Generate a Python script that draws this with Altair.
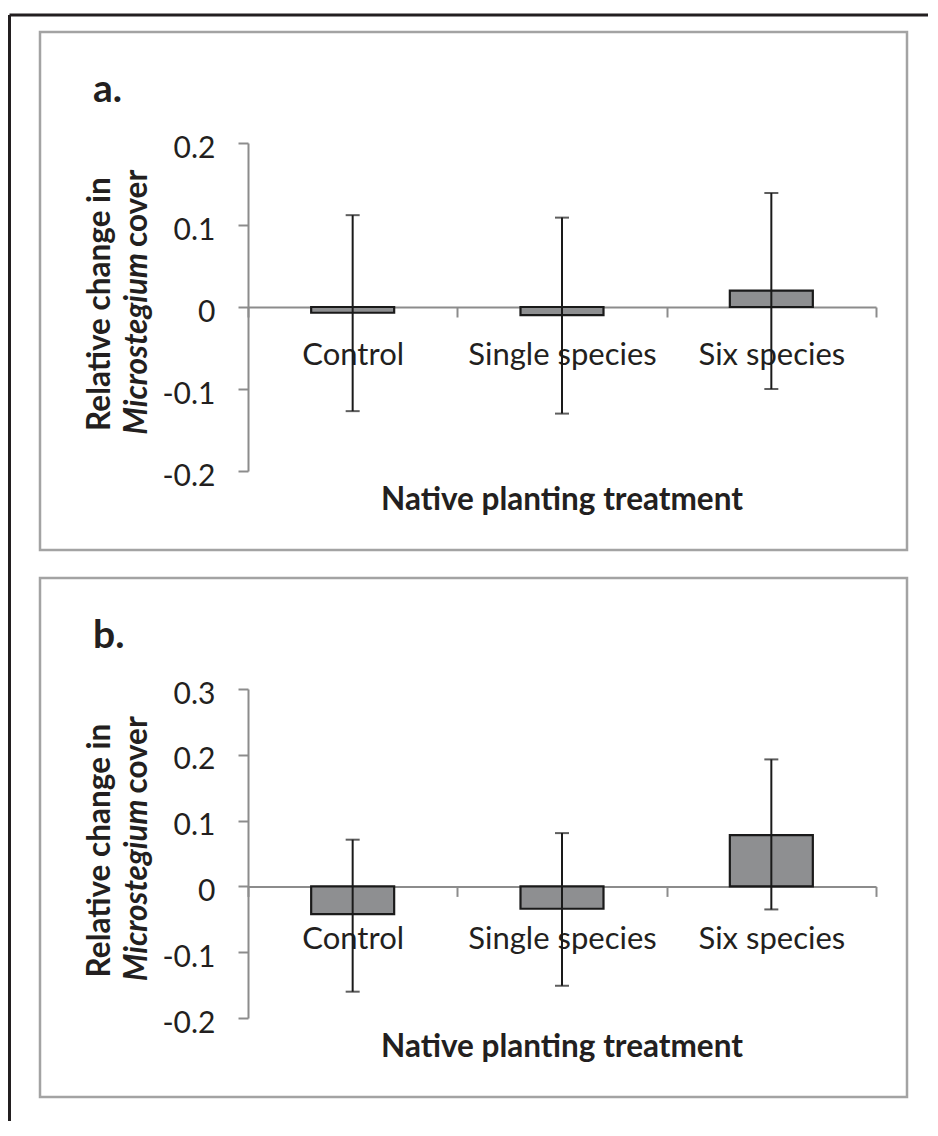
import altair as alt
import pandas as pd

categories = ["Control", "Single species", "Six species"]

a_means = [-0.007, -0.010, 0.020]
a_low = [-0.127, -0.130, -0.100]
a_high = [0.112, 0.109, 0.139]
a_ticks = [-0.2, -0.1, 0.0, 0.1, 0.2]

b_means = [-0.042, -0.034, 0.078]
b_low = [-0.160, -0.151, -0.035]
b_high = [0.071, 0.081, 0.193]
b_ticks = [-0.2, -0.1, 0.0, 0.1, 0.2, 0.3]

FONT = "Lato"
TXT = "#231f20"
AXC = "#8c8c8c"
FRAME = "#a3a3a3"
BAR = "#8e8f91"
W = 628

one = pd.DataFrame({"k": [0]})


def txt(text, x, y, size, weight="normal", style="normal", align="left", angle=0):
    return alt.Chart(one).mark_text(
        text=text, font=FONT, fontSize=size, fontWeight=weight, fontStyle=style,
        align=align, baseline="alphabetic", angle=angle, color=TXT
    ).encode(x=alt.value(x), y=alt.value(y))


def panel(letter, means, low, high, ticks, height, xlab_pad, outer=False):
    dmin, dmax = ticks[0], ticks[-1]
    zero_px = height * dmax / (dmax - dmin)
    df = pd.DataFrame({"cat": categories, "mean": means, "low": low, "high": high})

    xenc = alt.X(
        "cat:N", sort=categories, title=None,
        scale=alt.Scale(paddingInner=0, paddingOuter=0),
        axis=alt.Axis(
            offset=-(height - zero_px), tickBand="extent", tickSize=10, tickWidth=2,
            tickColor=AXC, domainColor=AXC, domainWidth=2, labelAngle=0,
            labelFont=FONT, labelFontSize=31, labelColor=TXT, labelPadding=xlab_pad,
            labelLimit=500, labelOverlap=False,
        ),
    )
    yscale = alt.Scale(domain=[dmin, dmax], nice=False, zero=False)
    yaxis = alt.Axis(
        values=ticks, title=None, grid=False, tickSize=10, tickWidth=2,
        tickColor=AXC, domainColor=AXC, domainWidth=2,
        labelFont=FONT, labelFontSize=30, labelColor=TXT, labelPadding=23,
        labelOffset=5, labelFlush=False, labelOverlap=False,
        labelExpr="datum.value == 0 ? '0' : (datum.value < 0 ? '-' : '') + format(abs(datum.value), '.1f')",
    )

    base = alt.Chart(df)
    bars = base.mark_bar(size=83, color=BAR, stroke="#1a1a1a", strokeWidth=2.2).encode(
        x=xenc, y=alt.Y("mean:Q", scale=yscale, axis=yaxis), y2=alt.datum(0)
    )
    err = base.mark_rule(color="#1a1a1a", strokeWidth=2).encode(
        x=xenc, y=alt.Y("low:Q", scale=yscale, axis=yaxis), y2="high:Q"
    )
    cap_lo = base.mark_tick(color="#1a1a1a", thickness=2, size=14).encode(
        x=xenc, y=alt.Y("low:Q", scale=yscale, axis=yaxis)
    )
    cap_hi = base.mark_tick(color="#1a1a1a", thickness=2, size=14).encode(
        x=xenc, y=alt.Y("high:Q", scale=yscale, axis=yaxis)
    )

    frame = alt.Chart(one).mark_rect(fillOpacity=0, stroke=FRAME, strokeWidth=2.5).encode(
        x=alt.value(-208), x2=alt.value(659), y=alt.value(-111), y2=alt.value(height + 79)
    )
    mid = height / 2
    layers = [frame, bars, err, cap_lo, cap_hi,
              txt(letter, -155, -41, 39, weight="bold"),
              txt("Native planting treatment", W / 2, height + 39, 31.5, weight="bold", align="center"),
              txt("Relative change in", -138, mid - 3, 31.5, weight="bold", align="center", angle=270),
              txt("Microstegium", -101, mid - 54, 31.5, weight="bold", style="italic", align="right", angle=270),
              txt("cover", -101, mid - 60, 31.5, weight="bold", align="left", angle=270)]
    if outer:
        bounds = alt.Chart(one).mark_rect(opacity=0).encode(
            x=alt.value(-240), x2=alt.value(682), y=alt.value(-135), y2=alt.value(978)
        )
        left = alt.Chart(one).mark_rule(color=TXT, strokeWidth=3).encode(
            x=alt.value(-238.5), y=alt.value(-128), y2=alt.value(978)
        )
        top = alt.Chart(one).mark_rule(color=TXT, strokeWidth=3).encode(
            x=alt.value(-238.5), x2=alt.value(680), y=alt.value(-128)
        )
        layers = [bounds, left, top] + layers
    return alt.layer(*layers).properties(width=W, height=height)


pa = panel("a.", a_means, a_low, a_high, a_ticks, 328, 23, outer=True)
pb = panel("b.", b_means, b_low, b_high, b_ticks, 329, 28)

chart = alt.vconcat(pa, pb, spacing=218, bounds="flush").resolve_scale(
    x="independent", y="independent"
).properties(padding=0).configure_view(strokeWidth=0).configure_axis(
    labelFont=FONT
)

chart.save("out.html", embed_options={"renderer": "svg", "actions": False})
